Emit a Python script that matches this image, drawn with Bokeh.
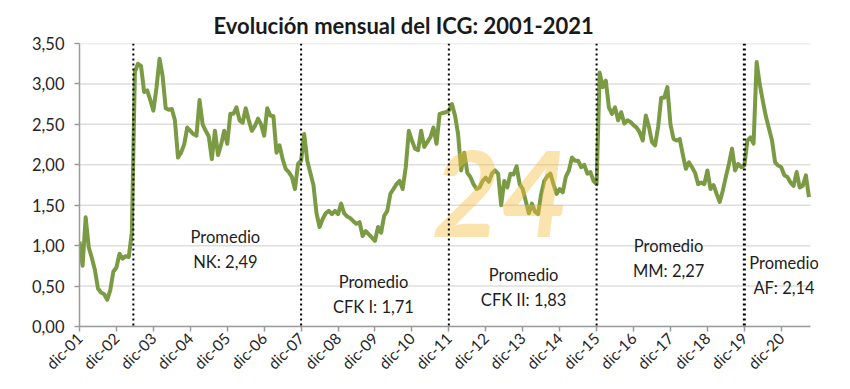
import numpy as np
from bokeh.plotting import figure
from bokeh.models import Range1d, FixedTicker, Span, ColumnDataSource, Label
from bokeh.core.properties import value
from bokeh.embed import file_html
from bokeh.resources import INLINE

# ICG monthly values, Dec-2001 ... Sep-2021
icg = [
    1.05, 0.75, 1.35, 0.98, 0.85, 0.70, 0.47, 0.42, 0.40, 0.33, 0.45, 0.68,
    0.73, 0.90, 0.84, 0.87, 0.86, 1.16, 3.15, 3.25, 3.22, 2.90, 2.92, 2.80,
    2.67, 2.95, 3.31, 3.10, 2.70, 2.68, 2.69, 2.55, 2.09, 2.15, 2.25, 2.46,
    2.42, 2.38, 2.36, 2.80, 2.50, 2.42, 2.35, 2.07, 2.42, 2.12, 2.25, 2.42,
    2.26, 2.63, 2.63, 2.71, 2.55, 2.52, 2.70, 2.55, 2.42, 2.48, 2.57, 2.50,
    2.36, 2.70, 2.61, 2.60, 2.15, 2.24, 2.07, 1.95, 1.91, 1.85, 1.70, 2.01,
    2.05, 2.38, 2.05, 1.90, 1.75, 1.40, 1.23, 1.33, 1.40, 1.43, 1.39, 1.43,
    1.39, 1.52, 1.40, 1.36, 1.34, 1.30, 1.27, 1.29, 1.12, 1.18, 1.14, 1.10,
    1.06, 1.23, 1.16, 1.37, 1.43, 1.64, 1.70, 1.76, 1.80, 1.70, 1.97, 2.42,
    2.30, 2.20, 2.18, 2.42, 2.22, 2.28, 2.34, 2.46, 2.26, 2.63, 2.64, 2.65,
    2.67, 2.75, 2.61, 2.38, 1.93, 2.15, 1.90, 1.85, 1.76, 1.70, 1.72, 1.80,
    1.84, 1.79, 1.89, 1.93, 1.89, 1.50, 1.80, 1.72, 1.89, 1.88, 1.98, 1.76,
    1.70, 1.55, 1.40, 1.52, 1.42, 1.39, 1.64, 1.80, 1.86, 1.89, 1.76, 1.64,
    1.70, 1.66, 1.85, 1.93, 2.09, 2.05, 2.05, 1.97, 2.00, 1.89, 1.91, 1.80,
    1.76, 3.14, 2.96, 3.04, 2.71, 2.63, 2.71, 2.55, 2.65, 2.51, 2.55, 2.53,
    2.49, 2.46, 2.40, 2.30, 2.61, 2.47, 2.28, 2.24, 2.47, 2.83, 2.83, 2.96,
    2.50, 2.32, 2.30, 2.32, 2.13, 1.95, 2.03, 1.97, 1.90, 1.76, 1.78, 1.76,
    1.93, 1.70, 1.75, 1.64, 1.54, 1.68, 1.85, 2.01, 2.20, 1.93, 2.01, 1.97,
    1.99, 2.30, 2.34, 2.26, 3.27, 3.00, 2.79, 2.60, 2.45, 2.30, 2.03, 1.99,
    1.97, 1.87, 1.85, 1.78, 1.74, 1.91, 1.72, 1.74, 1.87, 1.60,
]

x_tick_labels = ["dic-01", "dic-02", "dic-03", "dic-04", "dic-05", "dic-06",
                 "dic-07", "dic-08", "dic-09", "dic-10", "dic-11", "dic-12",
                 "dic-13", "dic-14", "dic-15", "dic-16", "dic-17", "dic-18",
                 "dic-19", "dic-20"]
y_ticks = [0.0, 0.5, 1.0, 1.5, 2.0, 2.5, 3.0, 3.5]
y_tick_labels = ["0,00", "0,50", "1,00", "1,50", "2,00", "2,50", "3,00", "3,50"]

# government changes (month index from dic-01)
period_starts = [17.5, 72, 120, 168, 216]
avg_labels = ["Promedio\nNK: 2,49", "Promedio\nCFK I: 1,71", "Promedio\nCFK II: 1,83",
              "Promedio\nMM: 2,27", "Promedio\nAF: 2,14"]
avg_label_x = [47.4, 95.5, 144.3, 191.4, 228.9]
avg_label_y = [0.95, 0.40, 0.48, 0.84, 0.63]

months = np.arange(len(icg))
x_ticks = [12 * i for i in range(len(x_tick_labels))]
x_max = len(icg) - 0.5          # end of the drawn axis / grid
FRAME_W, AXIS_W = 739, 731      # frame a bit wider than the axis so labels can overhang

p = figure(frame_width=FRAME_W, frame_height=283, output_backend="svg", toolbar_location=None,
           x_range=Range1d(0, x_max * FRAME_W / AXIS_W), y_range=Range1d(0, 3.5),
           min_border_left=79, min_border_right=24, min_border_top=43,
           min_border_bottom=56)
p.outline_line_color = None
p.background_fill_color = "white"

p.title.text = "Evolución mensual del ICG: 2001-2021"
p.title.text_font = "Lato"
p.title.text_font_size = "22px"
p.title.text_font_style = "bold"
p.title.text_color = "#1a1a1a"
p.title.align = "left"
p.title.offset = 134

p.xgrid.visible = False
p.ygrid.visible = False
p.segment(x0=0, y0=y_ticks, x1=x_max, y1=y_ticks, line_color="#dedede",
          line_width=1.5, level="underlay")

for ax in (p.xaxis[0], p.yaxis[0]):
    ax.axis_line_color = "#9a9a9a"
    ax.axis_line_width = 1.5
    ax.major_tick_line_color = "#9a9a9a"
    ax.major_tick_line_width = 1.5
    ax.major_tick_in = 0
    ax.major_tick_out = 5
    ax.minor_tick_line_color = None
    ax.major_label_text_font = "Lato"
    ax.major_label_text_font_size = "16.5px"
    ax.major_label_text_color = "#262626"

p.yaxis.ticker = FixedTicker(ticks=y_ticks)
p.yaxis.major_label_overrides = dict(zip(y_ticks, y_tick_labels))
p.yaxis.major_label_standoff = 10

p.xaxis.ticker = FixedTicker(ticks=x_ticks)
p.xaxis.major_label_overrides = dict(zip(x_ticks, x_tick_labels))
p.xaxis.major_label_orientation = np.pi / 4
p.xaxis.major_label_standoff = 4
p.xaxis.major_label_text_font_size = "15.5px"
p.xaxis.bounds = (0, x_max)

src = ColumnDataSource(dict(x=months, y=icg))
p.line("x", "y", source=src, line_color="#7b9a44", line_width=4, line_join="round")

for i, xs in enumerate(period_starts):
    p.add_layout(Span(location=xs, dimension="height", line_color="black",
                      line_width=3 if i == len(period_starts) - 1 else 2,
                      line_dash="2 3"))

for t, lx, ly in zip(avg_labels, avg_label_x, avg_label_y):
    p.add_layout(Label(x=lx, y=ly, text=t, text_font="Lato",
                       text_font_size="16.5px", text_color="#1e1e1e",
                       text_align="center", text_baseline="middle",
                       text_line_height=1.25))

# watermark
p.text(x=[136.8], y=[1.64], text=["24"], text_font=value("Lato"),
       text_font_style="bold italic", text_font_size="118px",
       text_color="#f5bd3c", text_alpha=0.42, text_align="center",
       text_baseline="middle")

open("out.html", "w").write(file_html(p, INLINE))
